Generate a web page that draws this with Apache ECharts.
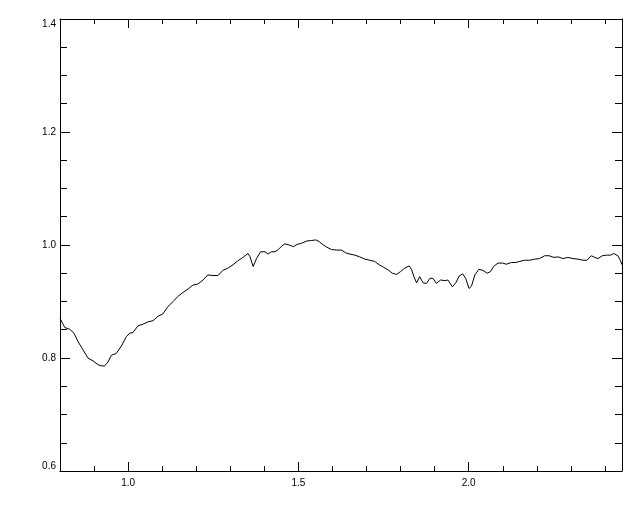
<!DOCTYPE html>
<html>
<head>
<meta charset="utf-8">
<script src="https://cdn.jsdelivr.net/npm/echarts@6/dist/echarts.min.js"></script>
<style>
html,body{margin:0;padding:0;background:#fff;}
#chart{width:640px;height:512px;}
</style>
</head>
<body>
<div id="chart"></div>
<script>
const wavelength = [0.800,0.814,0.828,0.841,0.853,0.868,0.882,0.897,0.912,0.923,0.931,0.941,0.951,0.965,0.980,0.995,1.005,1.014,1.029,1.044,1.058,1.073,1.088,1.102,1.117,1.132,1.146,1.161,1.176,1.190,1.205,1.220,1.234,1.249,1.264,1.278,1.293,1.308,1.322,1.337,1.352,1.358,1.367,1.377,1.389,1.402,1.411,1.421,1.431,1.441,1.451,1.460,1.473,1.485,1.496,1.509,1.524,1.539,1.551,1.561,1.573,1.584,1.597,1.612,1.627,1.639,1.651,1.666,1.680,1.695,1.710,1.724,1.737,1.749,1.763,1.776,1.788,1.800,1.812,1.825,1.832,1.839,1.847,1.856,1.866,1.876,1.886,1.895,1.905,1.917,1.930,1.939,1.952,1.962,1.972,1.982,1.991,2.001,2.008,2.018,2.030,2.042,2.054,2.064,2.073,2.086,2.099,2.111,2.125,2.138,2.150,2.164,2.179,2.194,2.208,2.223,2.236,2.250,2.262,2.277,2.291,2.306,2.321,2.336,2.347,2.360,2.370,2.380,2.392,2.404,2.416,2.426,2.431,2.438,2.445,2.450];
const flux = [0.870,0.854,0.851,0.844,0.829,0.814,0.800,0.795,0.788,0.786,0.786,0.793,0.805,0.808,0.821,0.838,0.844,0.845,0.857,0.860,0.864,0.866,0.874,0.878,0.891,0.900,0.909,0.916,0.922,0.929,0.931,0.938,0.947,0.946,0.946,0.955,0.959,0.965,0.972,0.978,0.985,0.979,0.962,0.976,0.988,0.988,0.984,0.988,0.988,0.992,0.998,1.002,1.000,0.997,1.001,1.003,1.007,1.008,1.009,1.006,1.000,0.996,0.992,0.991,0.991,0.986,0.984,0.982,0.979,0.975,0.973,0.971,0.965,0.961,0.956,0.950,0.948,0.953,0.959,0.963,0.957,0.944,0.933,0.944,0.933,0.932,0.941,0.941,0.932,0.938,0.937,0.938,0.926,0.933,0.945,0.949,0.941,0.923,0.927,0.947,0.957,0.955,0.950,0.953,0.962,0.968,0.968,0.966,0.969,0.969,0.971,0.973,0.973,0.975,0.976,0.981,0.981,0.978,0.979,0.976,0.978,0.976,0.975,0.973,0.973,0.981,0.978,0.976,0.981,0.982,0.982,0.985,0.986,0.981,0.973,0.965];
const xMajorTicks = [1.0, 1.5, 2.0];
const yTicks = [0.6, 0.8, 1.0, 1.2, 1.4];

const X_MIN = 0.8, X_MAX = 2.45, Y_MIN = 0.6, Y_MAX = 1.4;
const font = {fontFamily: 'Liberation Sans', fontSize: 10, color: '#000'};
const line = {show: true, lineStyle: {color: '#000', width: 1}};

function majorX(pos, labels) {
  return {
    type: 'value', position: pos, min: X_MIN, max: X_MAX,
    axisLine: line,
    axisTick: {show: true, inside: true, length: 9, lineStyle: {color: '#000', width: 1}, customValues: xMajorTicks},
    axisLabel: labels ? Object.assign({show: true, margin: 7, customValues: xMajorTicks, formatter: v => v.toFixed(1)}, font) : {show: false},
    splitLine: {show: false}
  };
}
function minorX(pos) {
  return {
    type: 'value', position: pos, min: X_MIN, max: X_MAX, interval: 0.1,
    axisLine: {show: false},
    axisTick: {show: true, inside: true, length: 5, lineStyle: {color: '#000', width: 1}},
    axisLabel: {show: false},
    splitLine: {show: false}
  };
}
function yAx(pos, labels) {
  return {
    type: 'value', position: pos, min: Y_MIN, max: Y_MAX, interval: 0.2,
    axisLine: line,
    axisTick: {show: true, inside: true, length: 10, lineStyle: {color: '#000', width: 1}},
    minorTick: {show: true, splitNumber: 4, length: 7, lineStyle: {color: '#000', width: 1}},
    axisLabel: labels ? Object.assign({show: true, margin: 4, formatter: v => v.toFixed(1),
      verticalAlignMinLabel: 'bottom', verticalAlignMaxLabel: 'top'}, font) : {show: false},
    splitLine: {show: false}
  };
}

const chart = echarts.init(document.getElementById('chart'), null, {renderer: 'canvas'});
chart.setOption({
  backgroundColor: '#fff',
  animation: false,
  grid: {left: 60, right: 18, top: 19, bottom: 41, containLabel: false},
  xAxis: [majorX('bottom', true), minorX('bottom'), majorX('top', false), minorX('top')],
  yAxis: [yAx('left', true), yAx('right', false)],
  series: [{
    type: 'line',
    xAxisIndex: 0, yAxisIndex: 0,
    data: wavelength.map((w, i) => [w, flux[i]]),
    showSymbol: false,
    symbol: 'none',
    lineStyle: {color: '#000', width: 1},
    clip: true
  }]
});
</script>
</body>
</html>
